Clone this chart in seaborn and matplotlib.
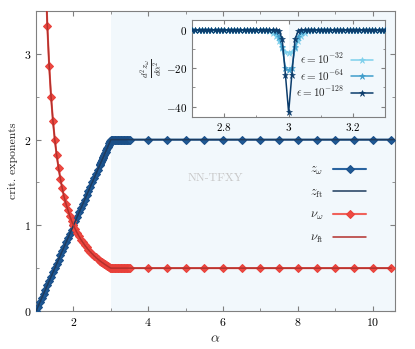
import matplotlib
matplotlib.use("Agg")
import seaborn as sns
from matplotlib import pyplot as plt
from matplotlib.ticker import MultipleLocator, FuncFormatter

# main panel: exponents vs alpha
alpha = [1.0, 1.05, 1.1, 1.15, 1.2, 1.25, 1.3, 1.35, 1.4, 1.45, 1.5, 1.55, 1.6, 1.65,
         1.7, 1.75, 1.8, 1.85, 1.9, 1.95, 2.0, 2.05, 2.1, 2.15, 2.2, 2.25, 2.3, 2.35,
         2.4, 2.45, 2.5, 2.55, 2.6, 2.65, 2.7,
         2.72, 2.74, 2.76, 2.78, 2.8, 2.82, 2.84, 2.86, 2.88, 2.9, 2.92, 2.94, 2.96,
         2.98, 3.0, 3.02, 3.04, 3.06, 3.08, 3.1, 3.12, 3.14, 3.16, 3.18, 3.2, 3.22,
         3.24, 3.26, 3.28, 3.3, 3.32, 3.34, 3.36, 3.38, 3.4, 3.42, 3.44, 3.46, 3.48, 3.5,
         4.0, 4.5, 5.0, 5.5, 6.0, 6.5, 7.0, 7.5, 8.0, 8.5, 9.0, 9.5, 10.0, 10.5]
z_omega = ([0.0, 0.05, 0.1, 0.15, 0.2, 0.25, 0.3, 0.35, 0.4, 0.45, 0.5, 0.55, 0.6, 0.65,
            0.7, 0.75, 0.8, 0.85, 0.9, 0.95, 1.0, 1.05, 1.1, 1.15, 1.2, 1.25, 1.3, 1.35,
            1.4, 1.45, 1.5, 1.55, 1.6, 1.65, 1.7,
            1.72, 1.74, 1.76, 1.78, 1.8, 1.82, 1.84, 1.86, 1.88, 1.9, 1.92, 1.94, 1.96,
            1.98, 2.0] + [2.0] * 25 + [2.0] * 14)
alpha_nu = alpha[1:]
nu_omega = ([20.0, 10.0, 6.67, 5.0, 4.0, 3.33, 2.86, 2.5, 2.22, 2.0, 1.82, 1.67, 1.54,
             1.43, 1.33, 1.25, 1.18, 1.11, 1.05, 1.0, 0.952, 0.909, 0.87, 0.833, 0.8,
             0.769, 0.741, 0.714, 0.69, 0.667, 0.645, 0.625, 0.606, 0.588,
             0.581, 0.575, 0.568, 0.562, 0.556, 0.549, 0.543, 0.538, 0.532, 0.526,
             0.521, 0.515, 0.51, 0.505, 0.5] + [0.5] * 25 + [0.5] * 14)
alpha_zft = [1.0, 3.0, 10.6]
z_ft = [0.0, 2.0, 2.0]

# inset: second derivative of z_omega near alpha = 3
alpha_in = [2.70, 2.71, 2.72, 2.73, 2.74, 2.75, 2.76, 2.77, 2.78, 2.79, 2.80, 2.81,
            2.82, 2.83, 2.84, 2.85, 2.86, 2.87, 2.88, 2.89, 2.90, 2.91, 2.92, 2.93,
            2.94, 2.95, 2.96, 2.97, 2.98, 2.99, 3.00, 3.01, 3.02, 3.03, 3.04, 3.05,
            3.06, 3.07, 3.08, 3.09, 3.10, 3.11, 3.12, 3.13, 3.14, 3.15, 3.16, 3.17,
            3.18, 3.19, 3.20, 3.21, 3.22, 3.23, 3.24, 3.25, 3.26, 3.27, 3.28, 3.29, 3.30]
d2z_32 = [0.0] * 23 + [-0.2, -0.6, -1.5, -3.0, -6.0, -9.5, -11.5, -12.0,
                      -11.5, -9.5, -6.0, -3.0, -1.5, -0.6, -0.2] + [0.0] * 23
d2z_64 = [0.0] * 25 + [-0.3, -1.0, -3.5, -9.0, -20.0, -21.0,
                      -20.0, -9.0, -3.5, -1.0, -0.3] + [0.0] * 25
d2z_128 = [0.0] * 27 + [-0.5, -4.8, -23.3, -43.0, -23.3, -4.8, -0.5] + [0.0] * 27
eps_labels = [r"$\epsilon = 10^{-32}$", r"$\epsilon = 10^{-64}$", r"$\epsilon = 10^{-128}$"]
eps_colors = ["#7dd0ec", "#3f9dcb", "#0c3d6c"]

sns.set_style("ticks")
plt.rcParams["font.family"] = "serif"
plt.rcParams["font.serif"] = ["cmr10"]
plt.rcParams["mathtext.fontset"] = "cm"
plt.rcParams["axes.formatter.use_mathtext"] = True
plt.rcParams["axes.edgecolor"] = "#808080"
plt.rcParams["xtick.color"] = "#808080"
plt.rcParams["ytick.color"] = "#808080"
plt.rcParams["xtick.labelcolor"] = "black"
plt.rcParams["ytick.labelcolor"] = "black"

fig = plt.figure(figsize=(4.15, 3.49), dpi=100)
ax = fig.add_axes([0.087, 0.109, 0.865, 0.859])

shade = "#f2f8fc"
ax.axvspan(3.0, 10.6, color=shade, lw=0, zorder=0)

sns.lineplot(x=alpha, y=z_omega, ax=ax, color="#2a64a0", lw=1.5, marker="D",
             markersize=4.0, markeredgecolor="#1a4f88", markerfacecolor="#1f5a96",
             label=r"$z_\omega$", zorder=3)
sns.lineplot(x=alpha_zft, y=z_ft, ax=ax, color="#1e3b5e", lw=1.1,
             label=r"$z_{\rm ft}$", zorder=4)
sns.lineplot(x=alpha_nu, y=nu_omega, ax=ax, color="#f0625a", lw=1.5, marker="D",
             markersize=4.0, markeredgecolor="#e8403a", markerfacecolor="#ee4a42",
             label=r"$\nu_\omega$", zorder=3)
sns.lineplot(x=alpha_nu, y=nu_omega, ax=ax, color="#b3302c", lw=1.1,
             label=r"$\nu_{\rm ft}$", zorder=4)

ax.text(5.8, 1.55, "NN-TFXY", color="#c8c8c8", fontsize=8.5, ha="center", va="center")

ax.set_xlim(1.0, 10.6)
ax.set_ylim(0, 3.5)
ax.xaxis.set_major_locator(MultipleLocator(2))
ax.xaxis.set_minor_locator(MultipleLocator(1))
ax.yaxis.set_major_locator(MultipleLocator(1))
ax.yaxis.set_minor_locator(MultipleLocator(0.5))
ax.tick_params(which="both", direction="in", top=True, right=True, labelsize=8.5)
ax.tick_params(which="major", length=3.5)
ax.tick_params(which="minor", length=2)
ax.set_xlabel(r"$\alpha$", fontsize=10)
ax.set_ylabel("crit. exponents", fontsize=8.5)

ax.legend(loc="center right", bbox_to_anchor=(0.95, 0.355), frameon=False,
          markerfirst=False, fontsize=9, handlelength=2.6, labelspacing=0.75,
          handletextpad=0.8)

# inset
axi = fig.add_axes([0.463, 0.666, 0.465, 0.277])
axi.set_facecolor("white")
axi.axvspan(3.0, 3.3, color=shade, lw=0, zorder=0)
for yv, lab, col in zip([d2z_32, d2z_64, d2z_128], eps_labels, eps_colors):
    sns.lineplot(x=alpha_in, y=yv, ax=axi, color=col, lw=1.1, marker="*",
                 markersize=4.5, markeredgewidth=0.4, markeredgecolor=col,
                 label=lab, zorder=3)
axi.set_xlim(2.7, 3.3)
axi.set_ylim(-45.2, 5.2)
axi.xaxis.set_major_locator(MultipleLocator(0.2))
axi.xaxis.set_minor_locator(MultipleLocator(0.1))
axi.yaxis.set_major_locator(MultipleLocator(20))
axi.yaxis.set_minor_locator(MultipleLocator(10))
axi.xaxis.set_major_formatter(FuncFormatter(lambda v, p: f"${v:g}$"))
axi.tick_params(which="both", direction="in", top=True, right=True, labelsize=8)
axi.tick_params(which="major", length=3)
axi.tick_params(which="minor", length=1.8)
axi.set_ylabel(r"$\frac{d^2 z_\omega}{d\alpha^2}$", fontsize=9, labelpad=1)
axi.legend(loc="lower right", bbox_to_anchor=(0.99, 0.08), frameon=False,
           markerfirst=False, fontsize=8, handlelength=2.0, labelspacing=0.15,
           handletextpad=0.6)

fig.savefig("out.png", dpi=100)
